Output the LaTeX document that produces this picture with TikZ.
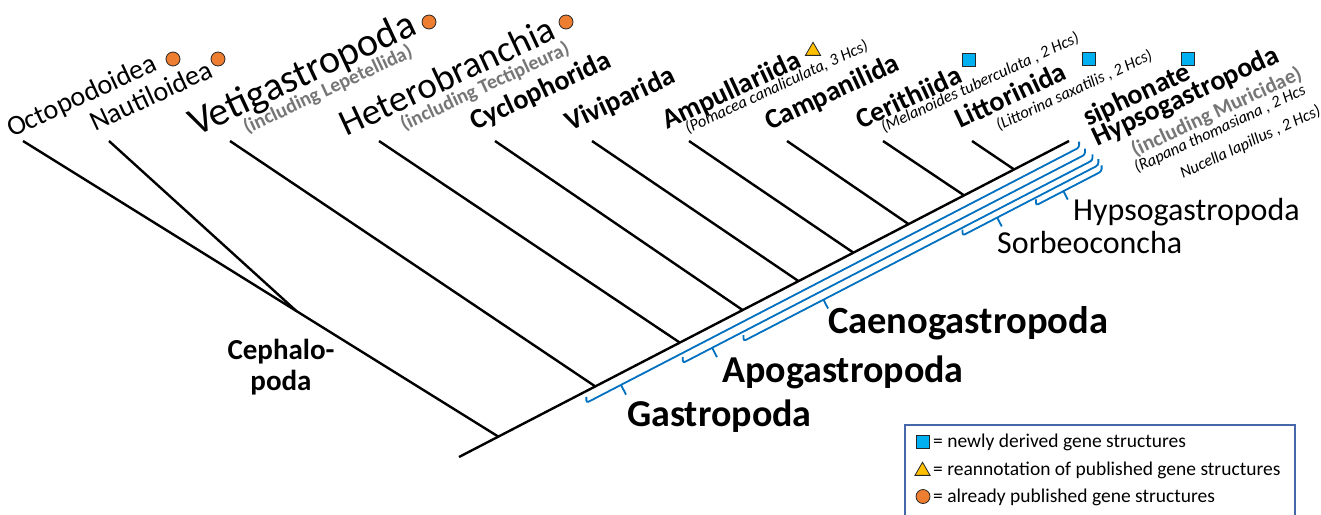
\documentclass[tikz,border=0pt]{standalone}
\usepackage{fontspec}
\setmainfont{Carlito}
\usetikzlibrary{calc,shapes.geometric}
\definecolor{brblue}{RGB}{0,112,192}
\definecolor{lblgray}{RGB}{118,118,118}
\definecolor{orng}{RGB}{237,125,49}
\definecolor{yelo}{RGB}{255,192,0}
\definecolor{cyn}{RGB}{0,176,240}
\definecolor{legbox}{RGB}{68,104,170}
\newcommand\bluebrace[5]{%
  \draw[brk] ({#2+2.76},{#1-5.33}) -- (#2,#1) -- (#3,#1) -- ({#3+2.76},{#1-5.33});
  \draw[brk] (#4,#1) -- (#4,{#1+#5});}
\begin{document}
\begin{tikzpicture}[x=1pt,y=-1pt,
  tree/.style={line width=2.4pt},
  brk/.style={draw=brblue, line width=1.8pt, rounded corners=2.5pt},
  lab/.style={anchor=base west, inner sep=0pt, rotate=25},
  hlab/.style={anchor=base west, inner sep=0pt},
  big/.style={font=\fontsize{37}{40}\selectfont},
  reg/.style={font=\fontsize{28}{30}\selectfont},
  bld/.style={font=\fontsize{28}{30}\selectfont\bfseries},
  incl/.style={font=\fontsize{20}{22}\selectfont\bfseries, text=lblgray},
  spec/.style={font=\fontsize{16.5}{18}\selectfont\itshape},
  clade/.style={font=\fontsize{38}{40}\selectfont\bfseries},
  sub/.style={font=\fontsize{32}{34}\selectfont},
  leg/.style={font=\fontsize{19.5}{22}\selectfont},
  circ/.style={circle, minimum size=14pt, inner sep=0pt, fill=orng, draw=black!85, line width=0.8pt},
  sq/.style={rectangle, minimum size=13pt, inner sep=0pt, fill=cyn, draw=black!85, line width=0.8pt},
  tri/.style={regular polygon, regular polygon sides=3, minimum size=17.5pt, inner sep=0pt, fill=yelo, draw=black!85, line width=0.8pt}]
\useasboundingbox (0,0) rectangle (1321,514);
% backbone
\coordinate (A) at (459,457);
\coordinate (B) at (1069,141);
\draw[tree] (A) -- (B);
% junctions
\coordinate (jCeph) at ($(A)!0.0645!(B)$);
\coordinate (jVeti) at ($(A)!0.2234!(B)$);
\coordinate (jHet) at ($(A)!0.362!(B)$);
\coordinate (jCyc) at ($(A)!0.465!(B)$);
\coordinate (jViv) at ($(A)!0.5566!(B)$);
\coordinate (jAmp) at ($(A)!0.6466!(B)$);
\coordinate (jCam) at ($(A)!0.737!(B)$);
\coordinate (jCer) at ($(A)!0.828!(B)$);
\coordinate (jLit) at ($(A)!0.910!(B)$);
% tips
\coordinate (tOct) at (23,141);
\coordinate (tNau) at (109,141);
\coordinate (tVet) at (230,141);
\coordinate (tHet) at (379,141);
\coordinate (tCyc) at (495,141);
\coordinate (tViv) at (592,141);
\coordinate (tAmp) at (689,141);
\coordinate (tCam) at (787,141);
\coordinate (tCer) at (883,141);
\coordinate (tLit) at (972,141);
\coordinate (jNau) at ($(tOct)!0.575!(jCeph)$);
\draw[tree] (tOct) -- (jCeph);
\draw[tree] (tNau) -- (jNau);
\draw[tree] (tVet) -- (jVeti);
\draw[tree] (tHet) -- (jHet);
\draw[tree] (tCyc) -- (jCyc);
\draw[tree] (tViv) -- (jViv);
\draw[tree] (tAmp) -- (jAmp);
\draw[tree] (tCam) -- (jCam);
\draw[tree] (tCer) -- (jCer);
\draw[tree] (tLit) -- (jLit);
% blue brackets
\begin{scope}[shift={(459,457)}, rotate=27.39]
\bluebrace{10.5}{138}{693}{177}{11}
\bluebrace{19.5}{242}{695}{275}{10.5}
\bluebrace{28}{306}{699}{396}{10}
\bluebrace{35}{549}{702}{588}{10}
\bluebrace{42}{628}{702}{659}{9.5}
\end{scope}
% rotated labels
\node[lab,reg] (lOct) at (12,138) {Octopodoidea};
\node[lab,reg] (lNau) at (95,132) {Nautiloidea};
\node[lab,big,font=\fontsize{40}{42}\selectfont] (lVet) at (196,137) {Vetigastropoda};
\node[lab,incl] (iVet) at (247,134) {(including Lepetellida)};
\node[lab,big] (lHet) at (346,137) {Heterobranchia};
\node[lab,incl] (iHet) at (404,131) {(including Tectipleura)};
\node[lab,bld] (lCyc) at (475,131) {Cyclophorida};
\node[lab,bld] (lViv) at (570,132) {Viviparida};
\node[lab,bld] (lAmp) at (667,130) {Ampullariida};
\node[lab,spec] (sAmp) at (688,134) {(Pomacea canaliculata, 3 Hcs)};
\node[lab,bld] (lCam) at (770,131) {Campanilida};
\node[lab,bld] (lCer) at (861,130) {Cerithiida};
\node[lab,spec] (sCer) at (884,133) {(Melanoides tuberculata , 2 Hcs)};
\node[lab,bld] (lLit) at (960,129) {Littorinida};
\node[lab,spec] (sLit) at (999,131) {(Littorina saxatilis , 2 Hcs)};
\node[lab,bld] (lSip) at (1088,127) {siphonate};
\node[lab,bld] (lHyp) at (1097,147) {Hypsogastropoda};
\node[lab,incl,font=\fontsize{21}{23}\selectfont\bfseries] (iHyp) at (1135,157) {(including Muricidae)};
\node[lab,spec] (sRap) at (1137,173) {(Rapana thomasiana , 2 Hcs};
\node[lab,spec] (sNuc) at (1183,179) {Nucella lapillus , 2 Hcs)};
% symbols
\node[circ] (cOct) at (173,59) {};
\node[circ] (cNau) at (218,59) {};
\node[circ] (cVet) at (429,22) {};
\node[circ] (cHet) at (566,22) {};
\node[tri] (tAmpS) at (813,51) {};
\node[sq] (sCerS) at (969,60) {};
\node[sq] (sLitS) at (1089,59) {};
\node[sq] (sHypS) at (1188,59) {};
% horizontal clade labels
\node[hlab,font=\fontsize{29}{31}\selectfont\bfseries, anchor=base] (ceph1) at (281,359) {Cephalo-};
\node[hlab,font=\fontsize{29}{31}\selectfont\bfseries, anchor=base] (ceph2) at (281,390) {poda};
\node[hlab,clade] (gGas) at (627,426) {Gastropoda};
\node[hlab,clade] (gApo) at (722,382) {Apogastropoda};
\node[hlab,clade,font=\fontsize{38.5}{40}\selectfont\bfseries] (gCae) at (828,333) {Caenogastropoda};
\node[hlab,sub] (gSor) at (997,253) {Sorbeoconcha};
\node[hlab,sub] (gHyp) at (1073,220) {Hypsogastropoda};
% legend
\draw[draw=legbox, line width=1.2pt] (905,516) -- (905,425) -- (1295,425) -- (1295,516);
\node[sq] (kSq) at (922.5,442) {};
\node[tri] (kTri) at (922.5,471) {};
\node[circ] (kCirc) at (923,496.5) {};
\node[hlab,leg] (kt1) at (933,447) {= newly derived gene structures};
\node[hlab,leg] (kt2) at (933,475) {= reannotation of published gene structures};
\node[hlab,leg] (kt3) at (933,502) {= already published gene structures};
\end{tikzpicture}
\end{document}
